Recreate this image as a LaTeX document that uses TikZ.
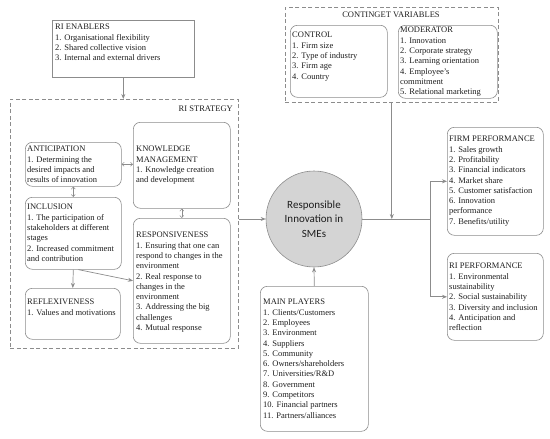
\documentclass[tikz,border=0pt]{standalone}
\usepackage{fontspec}
\setmainfont{Liberation Serif}
\newfontfamily\calib{Carlito}
\usetikzlibrary{arrows.meta}
\definecolor{ln}{HTML}{8C8C8C}
\definecolor{tx}{HTML}{1E1E1E}
\tikzset{
  box/.style={draw=ln, rounded corners=7pt, line width=0.6pt, inner sep=0pt, anchor=north west},
  dbox/.style={draw=ln, dash pattern=on 4pt off 2.5pt, line width=0.6pt, inner sep=0pt, anchor=north west},
  txt/.style={inner sep=0pt, align=left, text=tx, font=\fontsize{8.5}{10.3}\selectfont, anchor=north west},
  arr/.style={draw=ln, line width=0.7pt, -{Stealth[length=5pt,width=4pt]}},
  darr/.style={draw=ln, line width=0.5pt, {Straight Barb[length=2.2pt,width=4pt]}-{Straight Barb[length=2.2pt,width=4pt]}},
}
\begin{document}
\begin{tikzpicture}[x=1pt,y=-1pt]
\useasboundingbox (0,0) rectangle (550,439);
% RI enablers
\node[draw=ln, line width=0.6pt, inner sep=0pt, anchor=north west, minimum width=142pt, minimum height=57pt] (enab) at (52,20) {};
\node[txt] (enabT) at (55,24) {RI ENABLERS\\1. Organisational flexibility\\2. Shared collective vision\\3. Internal and external drivers};
% RI strategy
\node[dbox, minimum width=228pt, minimum height=249pt] (strat) at (10,99) {};
\node[txt, anchor=north east] (stratT) at (233,105.5) {RI STRATEGY};
\node[box, minimum width=96pt, minimum height=44pt] (anti) at (25,142) {};
\node[txt] (antiT) at (27,146) {ANTICIPATION\\1. Determining the\\desired impacts and\\results of innovation};
\node[box, minimum width=96pt, minimum height=72pt] (inc) at (25,197) {};
\node[txt] (incT) at (27,204) {INCLUSION\\1. The participation of\\stakeholders at different\\stages\\2. Increased commitment\\and contribution};
\node[box, minimum width=95pt, minimum height=51pt] (refl) at (25,288) {};
\node[txt] (reflT) at (27,299) {REFLEXIVENESS\\1. Values and motivations};
\node[box, minimum width=97pt, minimum height=86pt] (km) at (133,122) {};
\node[txt] (kmT) at (136,146) {KNOWLEDGE\\MANAGEMENT\\1. Knowledge creation\\and development};
\node[box, minimum width=97pt, minimum height=125pt] (resp) at (133,218) {};
\node[txt] (respT) at (136,232) {RESPONSIVENESS\\1. Ensuring that one can\\respond to changes in the\\environment\\2. Real response to\\changes in the\\environment\\3. Addressing the big\\challenges\\4. Mutual response};
% contingent variables
\node[dbox, minimum width=213pt, minimum height=95pt] (cont) at (285,7) {};
\node[txt, anchor=north] (contT) at (391,12) {CONTINGET VARIABLES};
\node[box, minimum width=97pt, minimum height=72pt] (ctrl) at (290,25) {};
\node[txt] (ctrlT) at (292,32) {CONTROL\\1. Firm size\\2. Type of industry\\3. Firm age\\4. Country};
\node[box, minimum width=99pt, minimum height=73pt] (mod) at (398,25) {};
\node[txt] (modT) at (400,27) {MODERATOR\\1. Innovation\\2. Corporate strategy\\3. Learning orientation\\4. Employee's\\commitment\\5. Relational marketing};
% centre
\node[circle, draw=ln, fill=black!17, line width=0.6pt, minimum size=96pt, inner sep=0pt, align=center, text=tx, font=\calib\fontsize{11}{14.5}\selectfont] (circ) at (314,219) {Responsible\\Innovation in\\SMEs};
% performance
\node[box, minimum width=96pt, minimum height=108pt] (firm) at (447,127) {};
\node[txt] (firmT) at (449,136) {FIRM PERFORMANCE\\1. Sales growth\\2. Profitability\\3. Financial indicators\\4. Market share\\5. Customer satisfaction\\6. Innovation\\performance\\7. Benefits/utility};
\node[box, minimum width=96pt, minimum height=87pt] (rip) at (447,253) {};
\node[txt] (ripT) at (449,263) {RI PERFORMANCE\\1. Environmental\\sustainability\\2. Social sustainability\\3. Diversity and inclusion\\4. Anticipation and\\reflection};
% main players
\node[box, minimum width=108pt, minimum height=145pt] (main) at (260,286) {};
\node[txt] (mainT) at (263,299) {MAIN PLAYERS\\1. Clients/Customers\\2. Employees\\3. Environment\\4. Suppliers\\5. Community\\6. Owners/shareholders\\7. Universities/R\&D\\8. Government\\9. Competitors\\10. Financial partners\\11. Partners/alliances};
% connectors
\coordinate (j) at (430,219);
\draw[arr] (enab.south) -- (enab.south |- strat.north);
\draw[arr] (strat.east |- circ.west) -- (circ.west);
\draw[draw=ln, line width=0.7pt] (circ.east) -- (j);
\draw[arr] (j) |- (firm.west);
\draw[arr] (j) |- (rip.west);
\draw[arr] (cont.south) -- (cont.south |- circ.east);
\draw[arr] (main.north) -- (circ.south);
\draw[darr] (anti.south) -- (inc.north);
\draw[darr] (anti.east) -- (anti.east -| km.west);
\draw[darr] (km.south) -- (resp.north);
\draw[arr] (inc.south) -- (refl.north);
\draw[arr] ([xshift=5pt]inc.south) -- (resp.west);
\end{tikzpicture}
\end{document}
